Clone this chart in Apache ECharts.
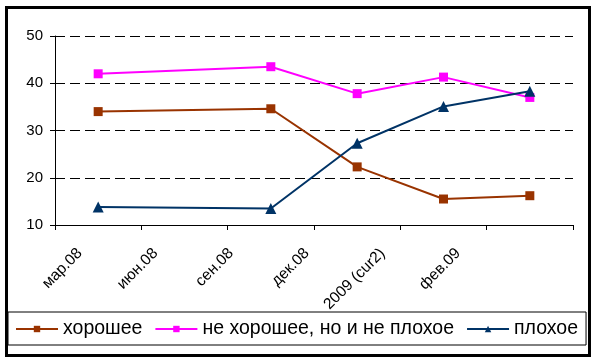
<!DOCTYPE html>
<html><head><meta charset="utf-8">
<script src="https://cdn.jsdelivr.net/npm/echarts@6/dist/echarts.min.js"></script>
<style>html,body{margin:0;padding:0;background:#fff}#c{width:596px;height:362px}</style>
</head><body><div id="c"></div>
<script>
const categories = ['мар.08', 'июн.08', 'сен.08', 'дек.08', '2009 (cur2)', 'фев.09'];
const seriesNames = ['хорошее', 'не хорошее, но и не плохое', 'плохое'];
const good = [34.0, null, 34.6, 22.3, 15.5, 16.2];
const neutral = [42.0, null, 43.5, 37.8, 41.3, 37.0];
const bad = [13.8, null, 13.5, 27.3, 35.1, 38.3];
const yTicks = [10, 20, 30, 40, 50];

const font = 'Liberation Sans, Arial, sans-serif';
const chart = echarts.init(document.getElementById('c'), null, {renderer: 'canvas'});
chart.setOption({
  backgroundColor: '#fff',
  animation: false,
  graphic: [{
    type: 'rect', left: 4, top: 5, shape: {width: 583, height: 348},
    style: {fill: 'none', stroke: '#000', lineWidth: 3}, z: -1
  }],
  grid: [
    {left: 55, right: 23, top: 36, bottom: 137},
    {left: 42, width: 454, top: 36, bottom: 137}
  ],
  legend: {
    data: seriesNames,
    left: 8, top: 312,
    padding: [7, 8, 6, 7],
    borderColor: '#000', borderWidth: 1, borderRadius: 0,
    itemWidth: 42, itemHeight: 8, itemGap: 12,
    textStyle: {fontFamily: font, fontSize: 19.5, color: '#000'}
  },
  xAxis: [{
    type: 'category', gridIndex: 0, data: categories, boundaryGap: true,
    axisLine: {lineStyle: {color: '#000', width: 1}},
    axisTick: {show: true, length: 5, lineStyle: {color: '#000'}},
    axisLabel: {show: false},
    splitLine: {show: false}
  }, {
    type: 'category', gridIndex: 1, data: categories, boundaryGap: true,
    axisLine: {show: false}, axisTick: {show: false},
    axisLabel: {show: true, rotate: 45, margin: 26, interval: 0, fontFamily: font, fontSize: 15.5, color: '#000'},
    splitLine: {show: false}
  }],
  yAxis: [{
    type: 'value', gridIndex: 0, min: yTicks[0], max: yTicks[yTicks.length - 1], interval: 10,
    axisLine: {show: true, lineStyle: {color: '#000', width: 1}},
    axisTick: {show: true, length: 5, lineStyle: {color: '#000'}},
    axisLabel: {margin: 12, fontFamily: font, fontSize: 15, color: '#000'},
    splitLine: {show: true, lineStyle: {color: '#000', width: 1, type: [10, 5]}}
  }, {
    type: 'value', gridIndex: 1, min: 10, max: 50, show: false
  }],
  series: [{
    name: seriesNames[0], type: 'line', data: good, connectNulls: true,
    xAxisIndex: 0, yAxisIndex: 0,
    symbol: 'rect', symbolSize: 9,
    itemStyle: {color: '#993300'}, lineStyle: {color: '#993300', width: 2}
  }, {
    name: seriesNames[1], type: 'line', data: neutral, connectNulls: true,
    xAxisIndex: 0, yAxisIndex: 0,
    symbol: 'rect', symbolSize: 9,
    itemStyle: {color: '#FF00FF'}, lineStyle: {color: '#FF00FF', width: 2}
  }, {
    name: seriesNames[2], type: 'line', data: bad, connectNulls: true,
    xAxisIndex: 0, yAxisIndex: 0,
    symbol: 'triangle', symbolSize: 11,
    itemStyle: {color: '#003366'}, lineStyle: {color: '#003366', width: 2}
  }]
});
</script></body></html>
